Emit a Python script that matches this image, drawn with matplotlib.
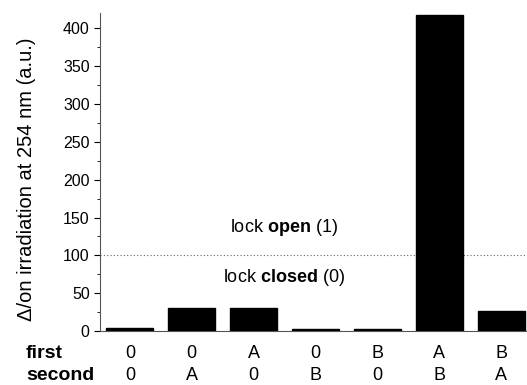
import matplotlib.pyplot as plt
import matplotlib.transforms as mtransforms
import numpy as np

plt.rcParams['font.family'] = ['Liberation Sans', 'DejaVu Sans']
plt.rcParams['mathtext.fontset'] = 'custom'
plt.rcParams['mathtext.rm'] = 'Liberation Sans'
plt.rcParams['mathtext.bf'] = 'Liberation Sans:bold'

# Входы замка: первый и второй сигнал
first = ['0', '0', 'A', '0', 'B', 'A', 'B']
second = ['0', 'A', '0', 'B', '0', 'B', 'A']
# Изменение сигнала при облучении на 254 нм, отн. ед.
delta = [4.5, 31, 31, 3, 3, 417, 26]
threshold = 100

x = np.arange(len(delta))

fig = plt.figure(figsize=(5.27, 3.85), dpi=100)
ax = fig.add_axes([0.19, 0.14, 0.81, 0.826])

ax.bar(x, delta, width=0.76, color='black', edgecolor='black', zorder=3)
ax.axhline(threshold, color='#666666', linestyle=(0, (1, 2)), linewidth=0.8, zorder=1)

ax.set_xlim(-0.48, 6.42)
ax.set_ylim(0, 420)
ax.set_yticks(np.arange(0, 401, 50))
ax.set_yticks(np.arange(25, 420, 50), minor=True)
ax.tick_params(axis='y', which='major', direction='out', length=4, labelsize=11.5)
ax.tick_params(axis='y', which='minor', direction='out', length=2.5)
ax.set_xticks([])

for side in ['top', 'right']:
    ax.spines[side].set_visible(False)
ax.spines['left'].set_color('#555555')
ax.spines['bottom'].set_color('#555555')

ax.set_ylabel('Δ/on irradiation at 254 nm (a.u.)', fontsize=14.5)
ax.yaxis.set_label_coords(-0.150, 0.478)

ax.text(2.49, 137, 'lock $\\mathbf{open}$ (1)', ha='center', va='center', fontsize=13)
ax.text(2.49, 71, 'lock $\\mathbf{closed}$ (0)', ha='center', va='center', fontsize=13)

# Подписи входов под осью
row1, row2 = -0.085, -0.154
trans = mtransforms.blended_transform_factory(ax.transData, ax.transAxes)
for xi, a, b in zip(x, first, second):
    ax.text(xi, row1, a, transform=trans, ha='center', va='baseline', fontsize=13)
    ax.text(xi, row2, b, transform=trans, ha='center', va='baseline', fontsize=13)
rows = mtransforms.blended_transform_factory(fig.transFigure, ax.transAxes)
ax.text(0.049, row1, 'first', transform=rows, ha='left', va='baseline',
        fontsize=14, fontweight='bold')
ax.text(0.049, row2, 'second', transform=rows, ha='left', va='baseline',
        fontsize=14, fontweight='bold')

plt.savefig('out.png', dpi=100)
